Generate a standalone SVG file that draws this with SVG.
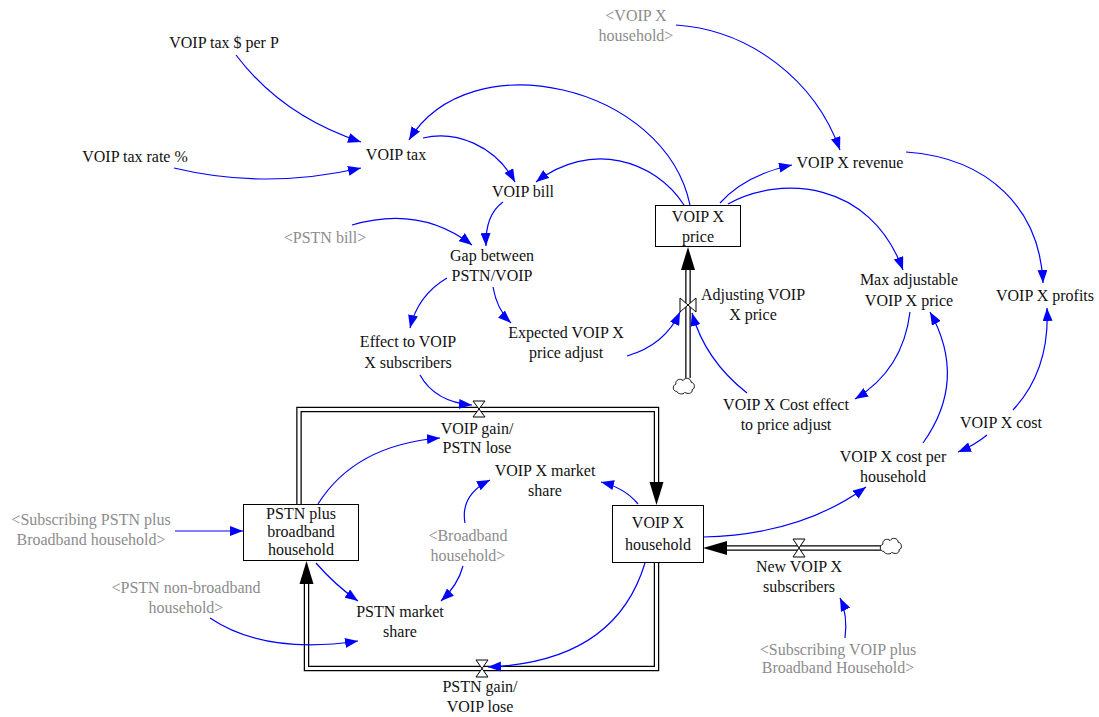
<svg xmlns="http://www.w3.org/2000/svg" width="1099" height="717" viewBox="0 0 1099 717">
<style>
text{font-family:"Liberation Serif","Times New Roman",serif;font-size:16px;fill:#111;text-anchor:middle}
.g{fill:#8c8c8c}
.c{fill:none;stroke:#0000ff;stroke-width:1.2;marker-end:url(#ah)}
.box{fill:#fff;stroke:#000;stroke-width:1}
.po{fill:none;stroke:#000;stroke-width:5.5}
.pi{fill:none;stroke:#fff;stroke-width:3}
.v{fill:#fff;stroke:#000;stroke-width:1}
.head{fill:#000}
</style>
<defs>
<marker id="ah" markerUnits="userSpaceOnUse" markerWidth="13" markerHeight="10" refX="13" refY="5" orient="auto">
<path d="M0,0 L13,5 L0,10 z" fill="#0000ff"/>
</marker>
<path id="cloud" d="M-8,6 C-13,6 -13,-1 -9,-2 C-10,-7 -4,-9 -1,-6 C1,-10 8,-9 8,-4 C12,-4 13,3 9,4 C10,9 3,9 1,7 C-1,10 -7,9 -8,6 Z" fill="#fff" stroke="#000" stroke-width="1"/>
</defs>
<rect width="1099" height="717" fill="#fff"/>

<g id="flows">
<polyline class="po" points="299,504 299,409.5 656.5,409.5 656.5,482"/>
<polyline class="pi" points="299,506 299,409.5 656.5,409.5 656.5,482"/>
<polygon class="head" points="656.5,505 649.5,482 663.5,482"/>
<path class="v" d="M473,401 L485,401 L473,417 L485,417 Z"/>
<polyline class="po" points="656.5,562 656.5,668.5 306.5,668.5 306.5,584"/>
<polyline class="pi" points="656.5,560 656.5,668.5 306.5,668.5 306.5,584"/>
<polygon class="head" points="306.5,561 299.5,584 313.5,584"/>
<path class="v" d="M476,660 L488,660 L476,677 L488,677 Z"/>
<line class="po" x1="688" y1="378" x2="688" y2="269"/>
<line class="pi" x1="688" y1="380" x2="688" y2="269"/>
<polygon class="head" points="688,247 681,270 695,270"/>
<path class="v" d="M680,298 L680,312 L696,298 L696,312 Z"/>
<use href="#cloud" transform="translate(684,386) scale(0.9)"/>
<line class="po" x1="881" y1="548" x2="726" y2="548"/>
<line class="pi" x1="883" y1="548" x2="726" y2="548"/>
<polygon class="head" points="703,548 727,541 727,555"/>
<path class="v" d="M793,539 L805,539 L793,557 L805,557 Z"/>
<use href="#cloud" transform="translate(891,546) scale(0.9)"/>
</g>

<g id="connectors">
<path class="c" d="M236,55 Q282,116 361,142"/>
<path class="c" d="M174,168 Q265,190 361,168"/>
<path class="c" d="M690,205 C665,85 470,40 409,140"/>
<path class="c" d="M423,138 C455,130 495,145 515,182"/>
<path class="c" d="M684,205 C655,160 590,140 536,182"/>
<path class="c" d="M720,203 Q745,175 792,165"/>
<path class="c" d="M676,25 C750,30 815,80 840,150"/>
<path class="c" d="M906,152 C990,158 1040,210 1043,283"/>
<path class="c" d="M728,204 C780,175 870,180 903,270"/>
<path class="c" d="M352,225 Q420,205 472,245"/>
<path class="c" d="M503,202 Q485,215 486,246"/>
<path class="c" d="M447,278 Q418,295 410,328"/>
<path class="c" d="M493,287 Q497,310 511,323"/>
<path class="c" d="M627,356 Q665,345 680,312"/>
<path class="c" d="M747,393 Q705,360 692,313"/>
<path class="c" d="M910,312 Q903,370 855,399"/>
<path class="c" d="M923,443 Q968,380 930,312"/>
<path class="c" d="M1013,410 Q1050,370 1047,308"/>
<path class="c" d="M987,435 Q975,445 958,452"/>
<path class="c" d="M420,375 Q435,402 472,405"/>
<path class="c" d="M318,504 Q355,445 440,438"/>
<path class="c" d="M638,504 Q625,488 601,482"/>
<path class="c" d="M465,523 Q460,495 490,480"/>
<path class="c" d="M463,566 Q458,585 441,601"/>
<path class="c" d="M316,563 Q335,585 358,601"/>
<path class="c" d="M210,618 Q265,655 358,641"/>
<path class="c" d="M645,563 Q615,662 488,667"/>
<path class="c" d="M175,531 L243,531"/>
<path class="c" d="M703,537 Q800,535 866,487"/>
<path class="c" d="M845,638 Q848,615 840,598"/>
</g>

<g id="n-voip-tax-per-p"><text x="224" y="48">VOIP tax $ per P</text></g>
<g id="n-voip-tax-rate"><text x="135" y="162">VOIP tax rate %</text></g>
<g id="n-voip-tax"><text x="396" y="160">VOIP tax</text></g>
<g id="n-voip-bill"><text x="523" y="197">VOIP bill</text></g>
<g id="n-voip-x-household-shadow"><text class="g" x="636" y="21">&lt;VOIP X</text><text class="g" x="636" y="41">household&gt;</text></g>
<g id="n-voip-x-revenue"><text x="850" y="168">VOIP X revenue</text></g>
<g id="n-voip-x-price"><rect class="box" x="655.5" y="205.5" width="85" height="41"/><text x="698" y="222">VOIP X</text><text x="698" y="242">price</text></g>
<g id="n-pstn-bill"><text class="g" x="325" y="243">&lt;PSTN bill&gt;</text></g>
<g id="n-gap"><text x="492" y="261">Gap between</text><text x="492" y="281">PSTN/VOIP</text></g>
<g id="n-adjusting"><text x="753" y="300">Adjusting VOIP</text><text x="753" y="320">X price</text></g>
<g id="n-max-adj"><text x="909" y="285">Max adjustable</text><text x="909" y="306">VOIP X price</text></g>
<g id="n-profits"><text x="1045" y="301">VOIP X profits</text></g>
<g id="n-effect"><text x="408" y="347">Effect to VOIP</text><text x="408" y="368">X subscribers</text></g>
<g id="n-expected"><text x="566" y="338">Expected VOIP X</text><text x="566" y="358">price adjust</text></g>
<g id="n-cost-effect"><text x="786" y="410">VOIP X Cost effect</text><text x="786" y="430">to price adjust</text></g>
<g id="n-cost"><text x="1001" y="428">VOIP X cost</text></g>
<g id="n-voip-gain"><text x="477" y="434">VOIP gain/</text><text x="477" y="453">PSTN lose</text></g>
<g id="n-voip-share"><text x="545" y="476">VOIP X market</text><text x="545" y="496">share</text></g>
<g id="n-cost-per-hh"><text x="893" y="462">VOIP X cost per</text><text x="893" y="482">household</text></g>
<g id="n-pstn-hh"><rect class="box" x="243.5" y="504.5" width="115" height="56"/><text x="301" y="519">PSTN plus</text><text x="301" y="537">broadband</text><text x="301" y="555">household</text></g>
<g id="n-voip-hh"><rect class="box" x="612.5" y="505.5" width="91" height="57"/><text x="658" y="528">VOIP X</text><text x="658" y="550">household</text></g>
<g id="n-sub-pstn"><text class="g" x="91" y="525">&lt;Subscribing PSTN plus</text><text class="g" x="91" y="545">Broadband household&gt;</text></g>
<g id="n-broadband"><text class="g" x="468" y="541">&lt;Broadband</text><text class="g" x="468" y="561">household&gt;</text></g>
<g id="n-pstn-nonbb"><text class="g" x="186" y="593">&lt;PSTN non-broadband</text><text class="g" x="186" y="613">household&gt;</text></g>
<g id="n-pstn-share"><text x="400" y="617">PSTN market</text><text x="400" y="637">share</text></g>
<g id="n-new-voip"><text x="799" y="572">New VOIP X</text><text x="799" y="592">subscribers</text></g>
<g id="n-sub-voip"><text class="g" x="838" y="655">&lt;Subscribing VOIP plus</text><text class="g" x="838" y="673">Broadband Household&gt;</text></g>
<g id="n-pstn-gain"><text x="480" y="692">PSTN gain/</text><text x="480" y="712">VOIP lose</text></g>
</svg>
